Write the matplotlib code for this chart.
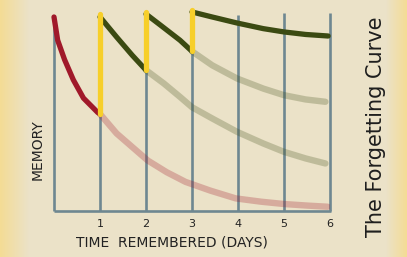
"""Forgetting curve sketch - memory drops off, each review bumps it back up"""

import numpy as np
import matplotlib.pyplot as plt
from matplotlib.colors import LinearSegmentedColormap

# grid days
days = [1, 2, 3, 4, 5, 6]
day_labels = ['1', '2', '3', '4', '5', '6']
grid_top = [101.7, 102.6, 103.5, 101, 102, 102]

# first learning, no review (red)
red_x = [0, 0.08, 0.23, 0.42, 0.64, 0.95, 1.0]
red_y = [100, 88, 78, 67.6, 58.2, 50.8, 50]
red_fade_x = [1, 1.36, 1.7, 2.04, 2.45, 2.86, 3.4, 3.95, 4.5, 5, 5.5, 5.95]
red_fade_y = [50, 40, 33, 26, 20, 15, 10.5, 6.5, 4.8, 3.6, 2.8, 2.2]

# after review 1
g1_x = [1, 1.36, 1.7, 2.0]
g1_y = [100, 89.7, 80.3, 72.6]
g1_fade_x = [2, 2.39, 2.74, 3.0, 3.44, 3.98, 4.55, 5.0, 5.47, 5.9]
g1_fade_y = [72.6, 65.7, 58.8, 53.5, 47.7, 40.8, 34.8, 30.5, 27.1, 24.5]

# after review 2
g2_x = [2, 2.32, 2.74, 3.0]
g2_y = [101.5, 95.7, 88, 82.3]
g2_fade_x = [3, 3.44, 3.98, 4.55, 5.0, 5.47, 5.9]
g2_fade_y = [82.3, 75.1, 68.3, 63.1, 59.7, 57.5, 56.3]

# after review 3
g3_x = [3, 3.44, 3.98, 4.55, 5.0, 5.47, 5.96]
g3_y = [102.6, 100, 96.9, 94, 92.3, 91, 90.2]

# review jumps (yellow)
review_x = [1, 2, 3]
review_lo = [50, 72.6, 82.3]
review_hi = [101.7, 102.6, 103.5]


def main():
    fig = plt.figure(figsize=(4.07, 2.57), dpi=100)
    fig.patch.set_facecolor('#EBE2C8')

    # paper background - yellowish at the left and right edges
    bg = fig.add_axes([0, 0, 1, 1])
    bg.axis('off')
    cmap = LinearSegmentedColormap.from_list('paper', ['#F4DC95', '#EBE2C8'])
    xs = np.linspace(0, 1, 407)
    edge = np.clip(np.minimum(xs / 0.07, (1 - xs) / 0.05), 0, 1)
    bg.imshow(edge[np.newaxis, :], aspect='auto', cmap=cmap,
              extent=[0, 1, 0, 1], vmin=0, vmax=1)
    bg.set_xlim(0, 1)
    bg.set_ylim(0, 1)

    ax = fig.add_axes([54 / 407, 46 / 257, 276 / 407, 194 / 257])
    ax.set_facecolor('none')
    ax.set_xlim(0, 6)
    ax.set_ylim(0, 100)
    for s in ax.spines.values():
        s.set_visible(False)

    grid_c = '#6E8791'
    ax.vlines(days, 0, grid_top, color=grid_c, lw=1.9, clip_on=False, zorder=1)
    ax.vlines(0, 0, 97, color=grid_c, lw=1.9, clip_on=False, zorder=1)
    ax.hlines(0, 0, 6.02, color=grid_c, lw=1.9, clip_on=False, zorder=1)

    red = '#A0192A'
    green = '#3B4A12'
    # faded "what would happen" curves
    ax.plot(red_fade_x, red_fade_y, color=red, lw=4.6, alpha=0.27,
            solid_capstyle='round', solid_joinstyle='round', zorder=2)
    for xx, yy in [(g1_fade_x, g1_fade_y), (g2_fade_x, g2_fade_y)]:
        ax.plot(xx, yy, color=green, lw=4.6, alpha=0.25,
                solid_capstyle='round', solid_joinstyle='round', zorder=2)

    # solid curves
    ax.plot(red_x, red_y, color=red, lw=3.8, solid_capstyle='round',
            solid_joinstyle='round', clip_on=False, zorder=3)
    for xx, yy in [(g1_x, g1_y), (g2_x, g2_y), (g3_x, g3_y)]:
        ax.plot(xx, yy, color=green, lw=3.8, solid_capstyle='round',
                solid_joinstyle='round', clip_on=False, zorder=3)
    ax.vlines(review_x, review_lo, review_hi, color='#F7CF2A', lw=3.8,
              clip_on=False, zorder=4, capstyle='round')

    ax.set_xticks(days)
    ax.set_xticklabels(day_labels, fontsize=8, color='#222222')
    ax.set_yticks([])
    ax.tick_params(axis='x', length=0, pad=6)

    fig.text(38 / 407, 1 - 150 / 257, 'MEMORY', rotation=90, fontsize=10,
             ha='center', va='center', color='#222222')
    fig.text(172 / 407, 1 - 243 / 257, 'TIME  REMEMBERED (DAYS)', fontsize=10,
             ha='center', va='center', color='#222222')
    fig.text(376 / 407, 1 - 127 / 257, 'The Forgetting Curve', rotation=90,
             fontsize=15, ha='center', va='center', color='#1E1E1E')

    plt.savefig('out.png', dpi=100, facecolor=fig.get_facecolor())


if __name__ == '__main__':
    main()
